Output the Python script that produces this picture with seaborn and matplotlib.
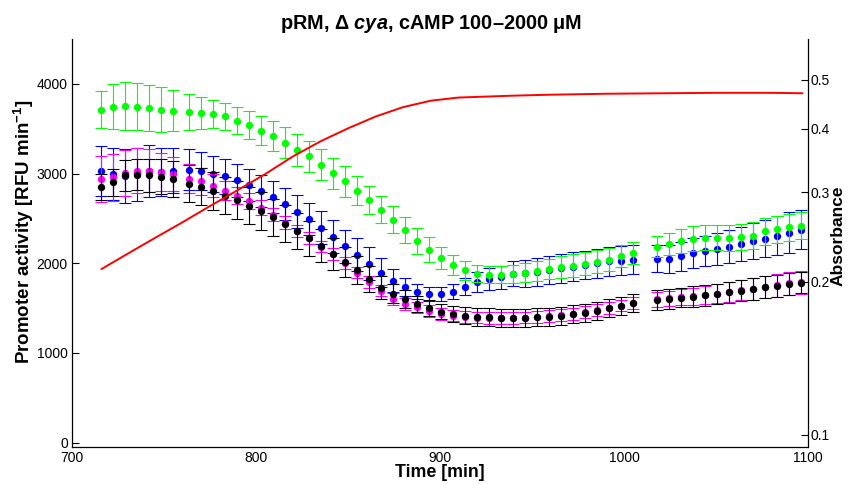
import numpy as np
import pandas as pd
import matplotlib
matplotlib.use("Agg")
import matplotlib.pyplot as plt
import seaborn as sns
from matplotlib.ticker import FixedLocator, FixedFormatter, NullLocator

# ---------------- data ----------------
times = [715.8, 722.3, 728.8, 735.3, 741.8, 748.4, 754.9,
         763.6, 770.1, 776.6, 783.2, 789.7, 796.2, 802.7, 809.2, 815.8, 822.3,
         828.8, 835.3, 841.8, 848.4, 854.9, 861.4, 867.9, 874.5, 881.0, 887.5,
         894.0, 900.5, 907.1, 913.6, 920.1, 926.6, 933.2, 939.7, 946.2, 952.7,
         959.2, 965.8, 972.3, 978.8, 985.3, 991.8, 998.4, 1004.9,
         1017.9, 1024.5, 1031.0, 1037.5, 1044.0, 1050.5, 1057.1, 1063.6,
         1070.1, 1076.6, 1083.2, 1089.7, 1096.2]

green = [3711, 3744, 3756, 3744, 3730, 3711, 3700, 3685, 3674, 3666,
         3636, 3588, 3536, 3477, 3413, 3343, 3265, 3190, 3097, 3004,
         2911, 2810, 2706, 2598, 2483, 2372, 2252, 2152, 2059, 1981,
         1922, 1884, 1869, 1869, 1884, 1895, 1914, 1936, 1955, 1973,
         1996, 2018, 2040, 2078, 2112, 2185, 2215, 2249, 2275, 2286,
         2286, 2286, 2294, 2305, 2357, 2379, 2402, 2420]
green_err = [204, 249, 266, 264, 260, 253, 229, 197, 176, 158,
             154, 152, 156, 162, 167, 173, 177, 178, 175, 172,
             168, 164, 160, 155, 150, 148, 145, 135, 125, 115,
             105, 97, 95, 95, 100, 105, 110, 115, 120, 125,
             128, 130, 130, 125, 120, 120, 125, 130, 135, 140,
             140, 145, 148, 150, 150, 150, 150, 150]

blue = [3027, 3000, 2974, 2989, 3033, 3019, 3033, 3041, 3030, 2997,
        2967, 2922, 2871, 2807, 2737, 2662, 2576, 2491, 2397, 2297,
        2190, 2093, 1996, 1895, 1806, 1735, 1683, 1657, 1657, 1683,
        1739, 1791, 1821, 1844, 1881, 1888, 1906, 1925, 1944, 1962,
        1981, 2000, 2022, 2026, 2040, 2051, 2051, 2078, 2112, 2134,
        2156, 2185, 2212, 2246, 2275, 2308, 2342, 2375]
blue_err = [280, 290, 300, 300, 290, 270, 250, 230, 210, 200,
            190, 185, 180, 180, 180, 180, 180, 180, 180, 180,
            185, 185, 180, 160, 130, 100, 80, 75, 78, 85,
            95, 110, 120, 130, 140, 150, 155, 160, 160, 160,
            160, 160, 160, 160, 165, 150, 155, 160, 165, 170,
            175, 180, 190, 200, 210, 220, 225, 220]

magenta = [2941, 2958, 3004, 3033, 3033, 3017, 2999, 2944, 2912, 2865,
           2810, 2754, 2690, 2619, 2539, 2453, 2360, 2279, 2185, 2100,
           2000, 1895, 1788, 1694, 1602, 1546, 1507, 1468, 1434, 1415,
           1397, 1393, 1386, 1386, 1386, 1393, 1401, 1408, 1420, 1434,
           1453, 1475, 1501, 1527, 1557, 1596, 1607, 1621, 1632, 1646,
           1661, 1680, 1699, 1713, 1735, 1752, 1775, 1788]
magenta_err = [255, 260, 260, 255, 240, 215, 190, 165, 150, 125,
               105, 95, 88, 80, 72, 68, 65, 65, 65, 65,
               65, 65, 65, 65, 65, 65, 65, 65, 65, 65,
               65, 65, 65, 65, 65, 65, 65, 65, 65, 65,
               65, 65, 65, 65, 65, 80, 85, 90, 95, 100,
               105, 110, 115, 120, 120, 125, 125, 130]

black = [2852, 2904, 2978, 2988, 2980, 2963, 2935, 2888, 2855, 2807,
         2754, 2703, 2643, 2579, 2511, 2439, 2360, 2280, 2193, 2104,
         2015, 1922, 1828, 1728, 1661, 1602, 1546, 1498, 1460, 1436,
         1415, 1404, 1397, 1390, 1390, 1390, 1397, 1404, 1415, 1434,
         1449, 1471, 1498, 1523, 1551, 1590, 1602, 1616, 1627, 1643,
         1657, 1676, 1694, 1710, 1732, 1747, 1769, 1783]
black_err = [145, 150, 170, 175, 185, 195, 200, 205, 210, 210,
             210, 210, 210, 210, 210, 205, 200, 195, 185, 175,
             165, 155, 145, 125, 110, 100, 93, 88, 88, 90,
             95, 100, 100, 100, 100, 100, 100, 100, 100, 100,
             100, 100, 100, 100, 100, 110, 110, 110, 115, 115,
             115, 115, 120, 120, 120, 120, 120, 120]

red_t = [716, 730, 745, 760, 775, 790, 805, 820, 835, 850, 865, 880, 895,
         910, 925, 940, 960, 990, 1020, 1050, 1080, 1097]
red_abs = [0.212, 0.227, 0.244, 0.262, 0.282, 0.303, 0.326, 0.353, 0.378,
           0.401, 0.423, 0.4415, 0.4545, 0.461, 0.463, 0.465, 0.467, 0.469,
           0.470, 0.471, 0.471, 0.470]

left_ticks = [0, 1000, 2000, 3000, 4000]
right_ticks = [0.1, 0.2, 0.3, 0.4, 0.5]
right_labels = ["0.1", "0.2", "0.3", "0.4", "0.5"]
x_ticks = [700, 800, 900, 1000, 1100]

# ---------------- style ----------------
sns.set_theme(style="white")
plt.rcParams["font.family"] = ["Liberation Sans", "DejaVu Sans"]
plt.rcParams["mathtext.fontset"] = "custom"
plt.rcParams["mathtext.rm"] = "Liberation Sans:bold"
plt.rcParams["mathtext.bf"] = "Liberation Sans:bold"
plt.rcParams["mathtext.it"] = "Liberation Sans:italic:bold"
for k in ["text.color", "axes.labelcolor", "xtick.color", "ytick.color"]:
    plt.rcParams[k] = "black"

fig = plt.figure(figsize=(8.49, 4.84), dpi=100)
ax = fig.add_axes([72 / 849, 37 / 484, (808 - 72) / 849, (447 - 39) / 484])

series = [("blue", blue, blue_err, "#0000ff"),
          ("magenta", magenta, magenta_err, "#ff00ff"),
          ("black", black, black_err, "#000000"),
          ("green", green, green_err, "#00ff00")]

z = 2
for name, vals, err, col in series:
    ax.errorbar(times, vals, yerr=err, fmt="none", ecolor=col,
                elinewidth=0.8, capsize=4.2, capthick=0.8, zorder=z)
    df = pd.DataFrame({"time": times, "value": vals})
    sns.scatterplot(data=df, x="time", y="value", color=col, s=28,
                    linewidth=0, ax=ax, zorder=z + 0.5, legend=False)
    z += 1

ax.set_xlim(700, 1100)
ax.set_ylim(-50, 4500)
ax.xaxis.set_major_locator(FixedLocator(x_ticks))
ax.yaxis.set_major_locator(FixedLocator(left_ticks))
ax.tick_params(direction="in", length=5, width=0.8, labelsize=10,
               colors="black", pad=3)
for s in ["top", "right"]:
    ax.spines[s].set_visible(False)
for s in ["left", "bottom"]:
    ax.spines[s].set_color("black")
    ax.spines[s].set_linewidth(0.9)

ax.set_xlabel("Time [min]", fontsize=12.8, fontweight="bold", labelpad=-1)
ax.set_ylabel("Promoter activity [RFU min$^{-1}$]", fontsize=13.5,
              fontweight="bold")
ax.yaxis.set_label_coords(-0.049, 0.527)
ax.set_title("pRM, \u0394 $\\mathit{cya}$, cAMP 100\u20132000 \u03bcM",
             fontsize=14.3, fontweight="bold", pad=7, color="black", x=0.488)

ax2 = ax.twinx()
sns.lineplot(x=red_t, y=red_abs, color="#ff0000", linewidth=1.4, ax=ax2)
ax2.set_yscale("log")
ax2.set_ylim(0.0947, 0.601)
ax2.yaxis.set_major_locator(FixedLocator(right_ticks))
ax2.yaxis.set_major_formatter(FixedFormatter(right_labels))
ax2.yaxis.set_minor_locator(NullLocator())
ax2.tick_params(axis="y", direction="in", length=5, width=0.8,
                labelsize=10, colors="black", pad=2)
for s in ["top", "left", "bottom"]:
    ax2.spines[s].set_visible(False)
ax2.spines["right"].set_color("black")
ax2.spines["right"].set_linewidth(0.9)
ax2.set_ylabel("Absorbance", fontsize=12.5, fontweight="bold")
ax2.yaxis.set_label_coords(1.0313, 0.517)

fig.savefig("out.png", dpi=100)
